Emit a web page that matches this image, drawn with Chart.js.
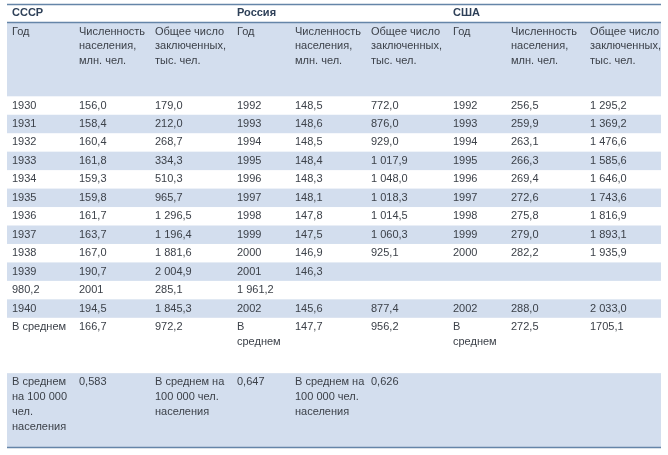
<!DOCTYPE html>
<html>
<head>
<meta charset="utf-8">
<script src="https://cdn.jsdelivr.net/npm/chart.js@4.4.1/dist/chart.umd.min.js"></script>
<style>
  html, body { margin: 0; background: #fff; }
  #wrap { width: 668px; height: 455px; }
</style>
</head>
<body>
<div id="wrap"><canvas id="tbl"></canvas></div>
<script>
// Table text
const groups = ['СССР', 'Россия', 'США'];
const colHeaders = [['Год'], ['Численность', 'населения,', 'млн. чел.'], ['Общее число', 'заключенных,', 'тыс. чел.']];

const ussrYear = ['1930', '1931', '1932', '1933', '1934', '1935', '1936', '1937', '1938', '1939', '980,2', '1940'];
const ussrPop  = ['156,0', '158,4', '160,4', '161,8', '159,3', '159,8', '161,7', '163,7', '167,0', '190,7', '2001', '194,5'];
const ussrPris = ['179,0', '212,0', '268,7', '334,3', '510,3', '965,7', '1 296,5', '1 196,4', '1 881,6', '2 004,9', '285,1', '1 845,3'];
const rusYear  = ['1992', '1993', '1994', '1995', '1996', '1997', '1998', '1999', '2000', '2001', '1 961,2', '2002'];
const rusPop   = ['148,5', '148,6', '148,5', '148,4', '148,3', '148,1', '147,8', '147,5', '146,9', '146,3', '', '145,6'];
const rusPris  = ['772,0', '876,0', '929,0', '1 017,9', '1 048,0', '1 018,3', '1 014,5', '1 060,3', '925,1', '', '', '877,4'];
const usaYear  = ['1992', '1993', '1994', '1995', '1996', '1997', '1998', '1999', '2000', '', '', '2002'];
const usaPop   = ['256,5', '259,9', '263,1', '266,3', '269,4', '272,6', '275,8', '279,0', '282,2', '', '', '288,0'];
const usaPris  = ['1 295,2', '1 369,2', '1 476,6', '1 585,6', '1 646,0', '1 743,6', '1 816,9', '1 893,1', '1 935,9', '', '', '2 033,0'];

const avgRow = [['В среднем'], ['166,7'], ['972,2'], ['В', 'среднем'], ['147,7'], ['956,2'], ['В', 'среднем'], ['272,5'], ['1705,1']];
const per100kLabel = ['В среднем', 'на 100 000', 'чел.', 'населения'];
const per100kLabelWide = ['В среднем на', '100 000 чел.', 'населения'];
const per100k = ['0,583', '0,647', '0,626'];

// layout: column edges on the x scale, row spans on the y scale (in line units)
const colEdges = [0, 67, 143, 225, 283, 359, 441, 499, 578, 654];
const PAD = 5;
const BAND = '#d3deee', RULE = '#6585a8', INK = '#3c4149', HEAD = '#2e4058';
const FONT = '11px "Liberation Sans", Arial, sans-serif';
const BOLD = 'bold 11px "Liberation Sans", Arial, sans-serif';

const columns = [ussrYear, ussrPop, ussrPris, rusYear, rusPop, rusPris, usaYear, usaPop, usaPris];

// rows: [top, bottom, banded, cells]
const rows = [];
rows.push({ top: 0, bottom: 1, band: false, cells: groups.flatMap(g => [[g], [], []]), bold: true });
rows.push({ top: 1, bottom: 5, band: true, cells: [0, 1, 2].flatMap(() => colHeaders) });
ussrYear.forEach((_, i) => {
  rows.push({ top: 5 + i, bottom: 6 + i, band: i % 2 === 1, cells: columns.map(c => c[i] ? [c[i]] : []) });
});
rows.push({ top: 17, bottom: 20, band: false, cells: avgRow });
rows.push({ top: 20, bottom: 24, band: true,
  cells: [per100kLabel, [per100k[0]], per100kLabelWide, [per100k[1]], per100kLabelWide, [per100k[2]], [], [], []] });

const tablePlugin = {
  id: 'tablePlugin',
  beforeDatasetsDraw(chart) {
    const { ctx, scales: { x, y } } = chart;
    const left = x.getPixelForValue(colEdges[0]);
    const right = x.getPixelForValue(colEdges[colEdges.length - 1]);
    ctx.save();
    rows.forEach(r => {
      if (!r.band) return;
      const t = y.getPixelForValue(r.top), b = y.getPixelForValue(r.bottom);
      ctx.fillStyle = BAND;
      ctx.fillRect(left, t, right - left, b - t);
    });
    ctx.strokeStyle = RULE;
    ctx.lineWidth = 1.5;
    [0, 1, 24].forEach(v => {
      const py = Math.round(y.getPixelForValue(v)) + 0.5;
      ctx.beginPath();
      ctx.moveTo(left, py);
      ctx.lineTo(right, py);
      ctx.stroke();
    });
    ctx.restore();
  },
  afterDatasetsDraw(chart) {
    const { ctx, scales: { x, y } } = chart;
    ctx.save();
    ctx.textBaseline = 'middle';
    ctx.textAlign = 'left';
    rows.forEach(r => {
      ctx.font = r.bold ? BOLD : FONT;
      ctx.fillStyle = r.bold ? HEAD : INK;
      r.cells.forEach((lines, c) => {
        const px = x.getPixelForValue(colEdges[c]) + PAD;
        lines.forEach((txt, k) => {
          ctx.fillText(txt, px, y.getPixelForValue(r.top + 0.5 + k * 0.8));
        });
      });
    });
    ctx.restore();
  }
};

new Chart(document.getElementById('tbl'), {
  type: 'scatter',
  data: { datasets: [{ data: [] }] },
  options: {
    responsive: true,
    maintainAspectRatio: false,
    animation: false,
    layout: { padding: { top: 4, left: 7, right: 7, bottom: 8 } },
    plugins: { legend: { display: false }, tooltip: { enabled: false } },
    scales: {
      x: { type: 'linear', min: colEdges[0], max: colEdges[colEdges.length - 1], display: false },
      y: { type: 'linear', min: 0, max: 24, reverse: true, display: false }
    }
  },
  plugins: [tablePlugin]
});
</script>
</body>
</html>
